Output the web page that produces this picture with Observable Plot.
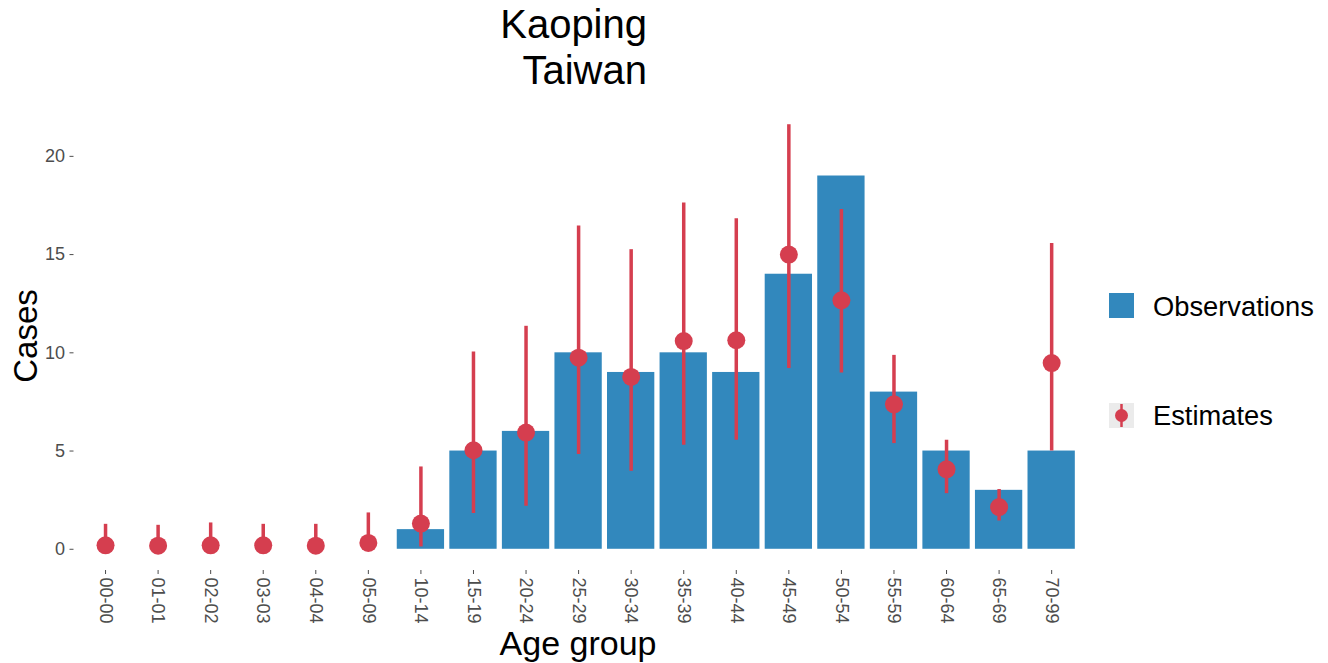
<!DOCTYPE html>
<html>
<head>
<meta charset="utf-8">
<script src="https://cdn.jsdelivr.net/npm/d3@7"></script>
<script src="https://cdn.jsdelivr.net/npm/@observablehq/plot@0.6"></script>
<style>
  html, body { margin: 0; padding: 0; background: #ffffff; }
  #chart { width: 1328px; height: 663px; }
</style>
</head>
<body>
<div id="chart"></div>
<script>
// ---- data ----
const titleLines = ["Kaoping", "Taiwan"];
const ageGroups = ["00-00","01-01","02-02","03-03","04-04","05-09","10-14","15-19","20-24","25-29","30-34","35-39","40-44","45-49","50-54","55-59","60-64","65-69","70-99"];
const observed  = [0, 0, 0, 0, 0, 0, 1, 5, 6, 10, 9, 10, 9, 14, 19, 8, 5, 3, 5];
const estimate  = [0.2, 0.18, 0.2, 0.2, 0.18, 0.32, 1.31, 5.04, 5.94, 9.75, 8.77, 10.6, 10.64, 15.0, 12.67, 7.38, 4.07, 2.15, 9.48];
const lower     = [0, 0, 0, 0, 0, 0, 0.12, 1.82, 2.19, 4.83, 3.97, 5.29, 5.55, 9.2, 8.97, 5.38, 2.83, 1.44, 5.0];
const upper     = [1.27, 1.22, 1.34, 1.27, 1.27, 1.85, 4.19, 10.04, 11.35, 16.45, 15.25, 17.62, 16.83, 21.61, 17.29, 9.87, 5.55, 3.04, 15.56];
const yTicks    = [0, 5, 10, 15, 20];
const seriesNames = ["Observations", "Estimates"];
const xTitle = "Age group";
const yTitle = "Cases";

const barColor = "#3288BD";
const estColor = "#D53E4F";
const font = "'Liberation Sans', Arial, Helvetica, sans-serif";

const rows = ageGroups.map((age, i) => ({
  age, obs: observed[i], est: estimate[i], lo: lower[i], hi: upper[i]
}));

const ymax = d3.max(upper);
const pad = ymax * 0.05;

const chart = Plot.plot({
  width: 1328,
  height: 663,
  marginLeft: 73.5,
  marginRight: 245.3,
  marginTop: 103,
  marginBottom: 93,
  style: { fontFamily: font, background: "#ffffff", color: "#4d4d4d" },
  x: { domain: ageGroups, paddingInner: 0.1, paddingOuter: 0.15, round: false, label: null },
  y: { domain: [-pad, ymax + pad], label: null },
  marks: [
    Plot.barY(rows, { x: "age", y: "obs", fill: barColor }),
    Plot.ruleX(rows, { x: "age", y1: "lo", y2: "hi", stroke: estColor, strokeWidth: 3.5 }),
    Plot.dot(rows, { x: "age", y: "est", r: 9, fill: estColor }),
    Plot.axisY({ ticks: yTicks, tickSize: 4, tickPadding: 5, fontSize: 18, color: "#4d4d4d", label: null }),
    Plot.axisX({ tickRotate: 90, tickSize: 4, tickPadding: 3, fontSize: 18, color: "#4d4d4d", label: null })
  ]
});

document.getElementById("chart").appendChild(chart);

const svg = d3.select(chart);

// Title (right-aligned lines)
titleLines.forEach((t, i) => {
  svg.append("text")
    .attr("x", 647).attr("y", 38 + i * 46)
    .attr("text-anchor", "end")
    .attr("font-family", font).attr("font-size", 40)
    .attr("fill", "#000").text(t);
});

// Axis titles
svg.append("text")
  .attr("x", 578).attr("y", 655)
  .attr("text-anchor", "middle")
  .attr("font-family", font).attr("font-size", 34)
  .attr("fill", "#000").text(xTitle);

svg.append("text")
  .attr("transform", "translate(37,336) rotate(-90)")
  .attr("text-anchor", "middle")
  .attr("font-family", font).attr("font-size", 33)
  .attr("fill", "#000").text(yTitle);

// Legend
const lg = svg.append("g").attr("text-anchor", "start");
lg.append("rect").attr("x", 1109).attr("y", 293).attr("width", 25).attr("height", 25).attr("fill", barColor);
lg.append("text").attr("x", 1153).attr("y", 316).attr("text-anchor", "start").attr("font-family", font).attr("font-size", 27.3).attr("fill", "#000").text(seriesNames[0]);
lg.append("rect").attr("x", 1109).attr("y", 403).attr("width", 25).attr("height", 25).attr("fill", "#ebebeb");
lg.append("line").attr("x1", 1121.5).attr("x2", 1121.5).attr("y1", 404).attr("y2", 427).attr("stroke", estColor).attr("stroke-width", 2.5);
lg.append("circle").attr("cx", 1121.5).attr("cy", 415.5).attr("r", 6.5).attr("fill", estColor);
lg.append("text").attr("x", 1153).attr("y", 425).attr("text-anchor", "start").attr("font-family", font).attr("font-size", 27.3).attr("fill", "#000").text(seriesNames[1]);
</script>
</body>
</html>
